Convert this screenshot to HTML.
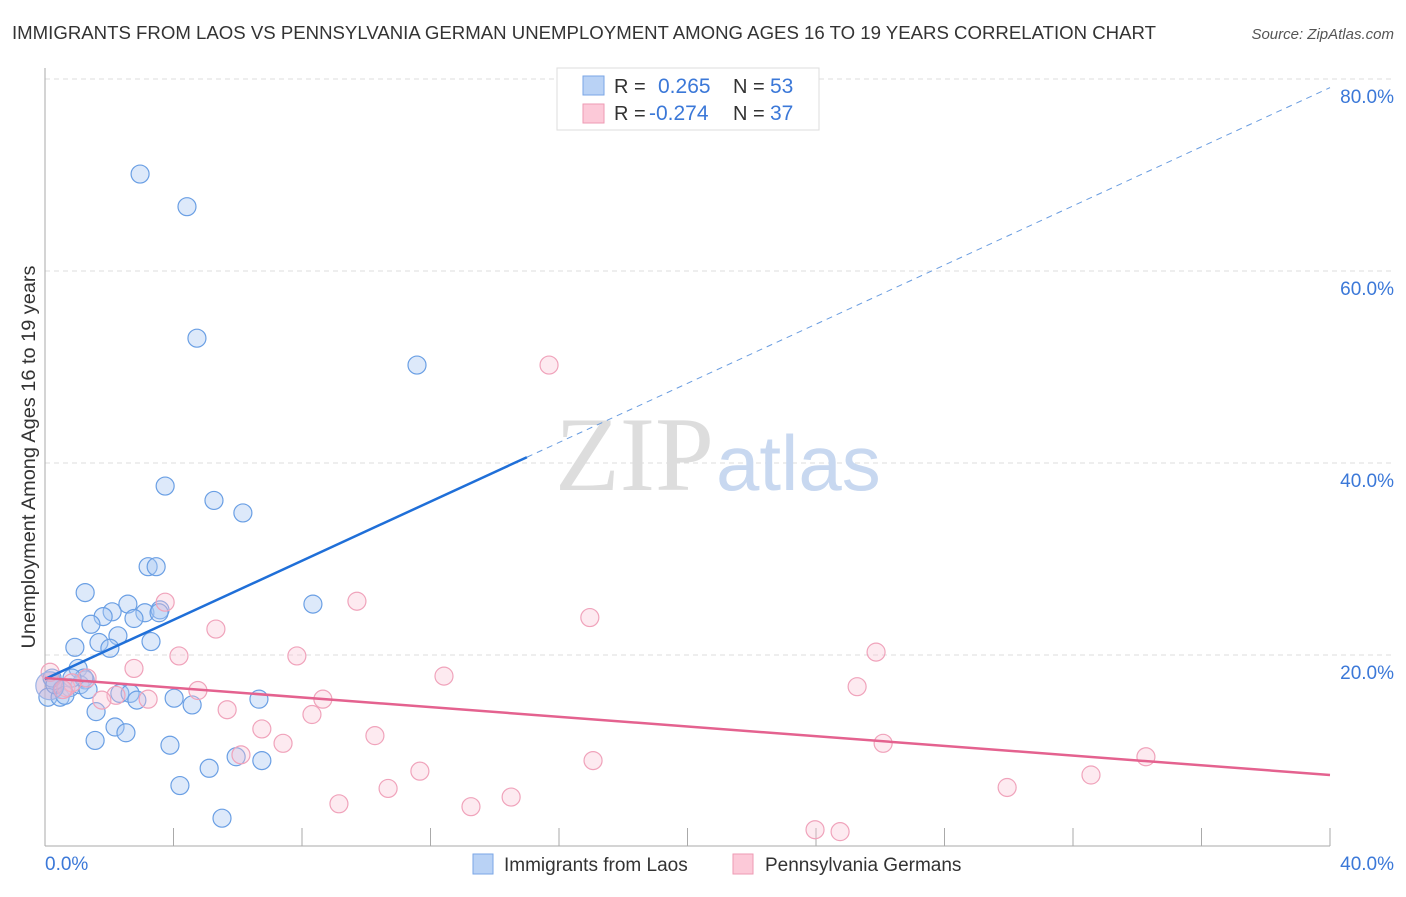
<!DOCTYPE html>
<html><head><meta charset="utf-8"><style>
body{margin:0;background:#fff;font-family:"Liberation Sans",sans-serif}
</style></head><body>
<svg width="1406" height="892" xmlns="http://www.w3.org/2000/svg" font-family="Liberation Sans, sans-serif">
<text x="12" y="39" font-size="18" fill="#333" textLength="1144" lengthAdjust="spacingAndGlyphs">IMMIGRANTS FROM LAOS VS PENNSYLVANIA GERMAN UNEMPLOYMENT AMONG AGES 16 TO 19 YEARS CORRELATION CHART</text>
<text x="1394" y="39" font-size="15" fill="#555" font-style="italic" text-anchor="end">Source: ZipAtlas.com</text>
<text x="35" y="457" font-size="19" fill="#333" text-anchor="middle" textLength="383" lengthAdjust="spacingAndGlyphs" transform="rotate(-90 35 457)">Unemployment Among Ages 16 to 19 years</text>
<g id="grid"></g>
<text x="714" y="490" font-size="106" fill="#ddd" font-family="Liberation Serif, serif" text-anchor="end">ZIP</text>
<text x="716" y="490" font-size="78" fill="#c8d8f0">atlas</text>
<line x1="45" y1="68" x2="45" y2="846" stroke="#aaa"/>
<line x1="45" y1="846" x2="1330" y2="846" stroke="#aaa"/>
<g id="ticks"></g>
<g id="pts"></g>
<g id="lines"></g>
<text x="45" y="870" font-size="19" fill="#3b78d8">0.0%</text>
<text x="1394" y="870" font-size="19" fill="#3b78d8" text-anchor="end">40.0%</text>
<g>
<rect x="557" y="68" width="262" height="62" fill="#fff" stroke="#ddd"/>
<rect x="583" y="76" width="21" height="19" fill="#b9d2f5" stroke="#7aa6e6"/>
<rect x="583" y="104" width="21" height="19" fill="#fcc9d8" stroke="#ee9ab3"/>
<text x="614" y="93" font-size="20" fill="#333">R = </text><text x="658" y="93" font-size="21" fill="#3b78d8">0.265</text>
<text x="733" y="93" font-size="20" fill="#333">N = </text><text x="770" y="93" font-size="21" fill="#3b78d8">53</text>
<text x="614" y="120" font-size="20" fill="#333">R = </text><text x="649" y="120" font-size="21" fill="#3b78d8">-0.274</text>
<text x="733" y="120" font-size="20" fill="#333">N = </text><text x="770" y="120" font-size="21" fill="#3b78d8">37</text>
</g>
<g>
<rect x="473" y="854" width="20" height="20" fill="#b9d2f5" stroke="#7aa6e6"/>
<text x="504" y="871" font-size="19" fill="#333">Immigrants from Laos</text>
<rect x="733" y="854" width="20" height="20" fill="#fcc9d8" stroke="#ee9ab3"/>
<text x="765" y="871" font-size="19" fill="#333">Pennsylvania Germans</text>
</g>
</svg>
<script>
const yTicks=[20,40,60,80];
const yTickLabels=["20.0%","40.0%","60.0%","80.0%"];
const xTicks=[4,8,12,16,20,24,28,32,36,40];
const blueX=[2.96,4.42,4.73,11.58,3.74,5.26,6.16,3.21,3.46,1.25,8.34,2.58,2.09,1.81,3.11,3.58,3.55,1.43,2.77,2.27,0.93,1.68,2.02,3.30,1.03,1.25,0.22,0.53,0.09,0.47,0.78,1.09,1.21,2.33,2.65,2.86,4.02,4.58,6.66,1.59,1.56,2.18,2.52,3.89,5.11,4.20,5.95,6.75,5.51,0.31,0.62,0.84,1.34];
const blueY=[70.1,66.7,53.0,50.2,37.6,36.1,34.8,29.2,29.2,26.5,25.3,25.3,24.5,24.0,24.4,24.7,24.4,23.2,23.8,22.0,20.8,21.3,20.7,21.4,18.6,17.4,17.6,16.4,15.6,15.6,16.6,16.9,17.6,16.0,16.0,15.3,15.5,14.8,15.4,14.1,11.1,12.5,11.9,10.6,8.2,6.4,9.4,9.0,3.0,16.9,15.8,17.6,16.4];
const pinkX=[15.69,3.74,9.71,16.96,5.32,4.17,7.84,25.87,12.42,2.77,1.31,0.16,0.65,0.84,4.76,8.65,2.21,3.21,25.28,1.77,5.67,8.31,6.75,10.27,7.41,26.09,6.10,34.27,17.06,11.67,32.56,10.68,29.95,14.51,9.15,13.26,23.97,24.75,0.56];
const pinkY=[50.2,25.5,25.6,23.9,22.7,19.9,19.9,20.3,17.8,18.6,17.6,18.2,16.6,17.1,16.3,15.4,15.8,15.4,16.7,15.3,14.3,13.8,12.3,11.6,10.8,10.8,9.6,9.4,9.0,7.9,7.5,6.1,6.2,5.2,4.5,4.2,1.8,1.6,16.4];
const blueFit=[17.5,1.54];
const pinkFit=[17.6,-0.2525];
const NS="http://www.w3.org/2000/svg";
const X=v=>45+v*32.125, Y=v=>847-v*9.6;
function mk(t,a,p){const e=document.createElementNS(NS,t);for(const k in a)e.setAttribute(k,a[k]);document.getElementById(p).appendChild(e);return e;}
yTicks.forEach((t,i)=>{
 const g=mk('line',{x1:45,x2:1394,y1:Y(t),y2:Y(t),stroke:'#ddd','stroke-dasharray':'5,4'},'grid');
 
 
 const l=mk('text',{x:1394,y:Y(t)+24,'font-size':19,fill:'#3b78d8','text-anchor':'end'},'grid');
 l.textContent=yTickLabels[i];
 
 
});
xTicks.forEach(t=>{
 const e=mk('line',{x1:X(t),x2:X(t),y1:828,y2:846,stroke:'#aaa'},'ticks');
 
 
});
blueX.forEach((x,i)=>{
 const c=mk('circle',{cx:X(x),cy:Y(blueY[i]),r:9,fill:'rgba(170,200,242,0.4)',stroke:'#6a9fe4','stroke-width':1.2},'pts');
 
 
});
pinkX.forEach((x,i)=>{
 const c=mk('circle',{cx:X(x),cy:Y(pinkY[i]),r:9,fill:'rgba(250,195,212,0.35)',stroke:'#f0a3bb','stroke-width':1.2},'pts');
 
 
});
const big=mk('circle',{cx:X(0.15),cy:Y(16.8),r:14,fill:'rgba(200,170,210,0.45)',stroke:'#9ab3e6','stroke-width':1.2},'pts');


const bs=mk('line',{x1:X(0),y1:Y(blueFit[0]),x2:X(15),y2:Y(blueFit[0]+blueFit[1]*15),stroke:'#1f6fd8','stroke-width':2.5},'lines');


const bd=mk('line',{x1:X(15),y1:Y(blueFit[0]+blueFit[1]*15),x2:X(40),y2:Y(blueFit[0]+blueFit[1]*40),stroke:'#6a9de0','stroke-width':1,'stroke-dasharray':'6,5'},'lines');


const pl=mk('line',{x1:X(0),y1:Y(pinkFit[0]),x2:X(40),y2:Y(pinkFit[0]+pinkFit[1]*40),stroke:'#e4628f','stroke-width':2.5},'lines');


</script>
</body></html>
